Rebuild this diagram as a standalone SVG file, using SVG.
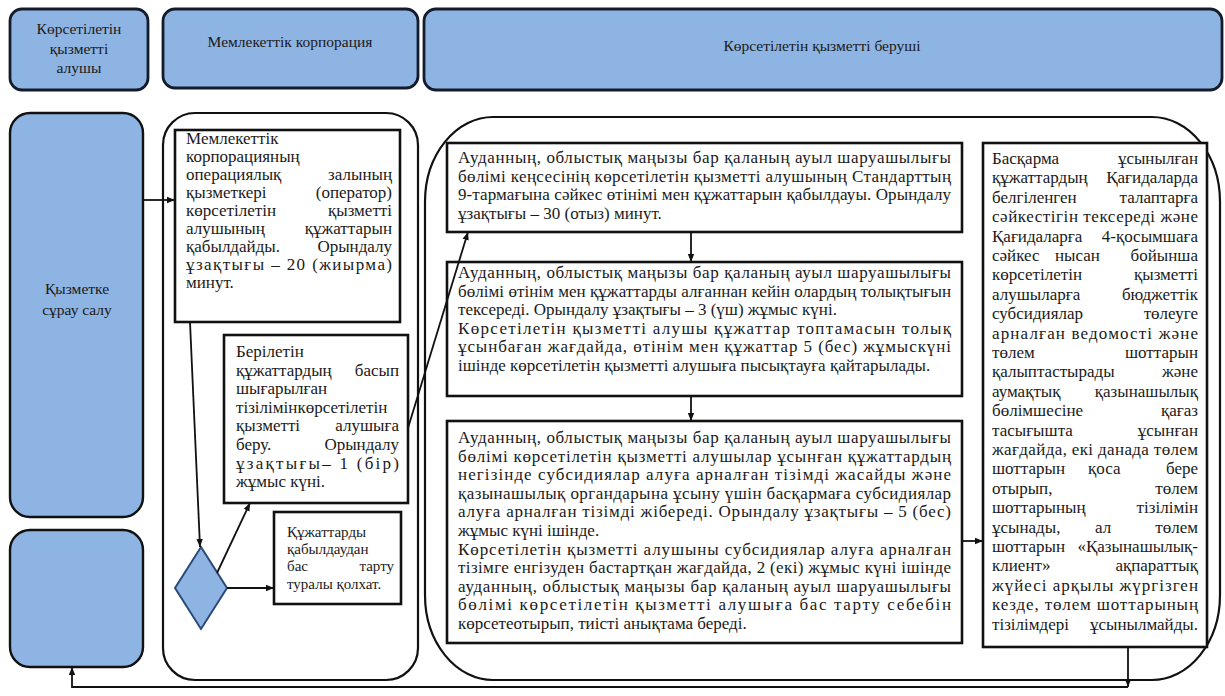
<svg xmlns="http://www.w3.org/2000/svg" width="1225" height="696" viewBox="0 0 1225 696">
<defs>
<marker id="ah" viewBox="0 0 10 10" refX="10" refY="5" markerWidth="8" markerHeight="8" markerUnits="userSpaceOnUse" orient="auto"><path d="M0,1 L10,5 L0,9 z" fill="#111"/></marker>
</defs>
<style>
.hdr{fill:#8EB4E3;stroke:#141c2b;stroke-width:2.8}
.lane{fill:#8EB4E3;stroke:#111;stroke-width:2.4}
.cont{fill:#fff;stroke:#111;stroke-width:2.2}
.box{fill:#fff;stroke:#111;stroke-width:2.6}
.dia{fill:#8EB4E3;stroke:#2c4a78;stroke-width:2}
.h{font-family:Liberation Serif,serif;font-size:15.5px;text-anchor:middle;fill:#1a1a1a}
.b{font-family:Liberation Serif,serif;font-size:17px;fill:#1a1a1a}
.s{font-family:Liberation Serif,serif;font-size:15px;fill:#1a1a1a}
.e{text-anchor:end}
.c{fill:none;stroke:#111;stroke-width:1.8}
.a{marker-end:url(#ah)}
</style>
<rect width="1225" height="696" fill="#fff"/>

<g id="hdr-recipient"><rect class="hdr" x="10" y="9" width="138" height="81" rx="12"/>
<text class="h" x="79" y="34">Көрсетілетін</text><text class="h" x="79" y="53.5">қызметті</text><text class="h" x="79" y="73">алушы</text></g>
<g id="hdr-corp"><rect class="hdr" x="163" y="9" width="255" height="79" rx="12"/>
<text class="h" x="290" y="47">Мемлекеттік корпорация</text></g>
<g id="hdr-provider"><rect class="hdr" x="424" y="9" width="798" height="81" rx="12"/>
<text class="h" x="822" y="51">Көрсетілетін қызметті беруші</text></g>

<g id="lane-request"><rect class="lane" x="10" y="113" width="133" height="404" rx="20"/>
<text class="h" x="77" y="294">Қызметке</text><text class="h" x="77" y="315">сұрау салу</text></g>
<g id="lane-end"><rect class="lane" x="10" y="530" width="133" height="137" rx="20"/></g>

<g id="corp-container"><rect class="cont" x="163" y="113" width="255" height="567" rx="32"/></g>
<g id="provider-container"><rect class="cont" x="425" y="117" width="795" height="563" rx="68" ry="85"/></g>

<g id="box-operator"><rect class="box" x="175" y="130" width="225" height="192"/>
<text class="b" x="186" y="144">Мемлекеттік</text>
<text class="b" x="186" y="162">корпорацияның</text>
<text class="b" x="186" y="180">операциялық</text><text class="b e" x="392" y="180">залының</text>
<text class="b" x="186" y="198">қызметкері</text><text class="b e" x="392" y="198">(оператор)</text>
<text class="b" x="186" y="216">көрсетілетін</text><text class="b e" x="392" y="216">қызметті</text>
<text class="b" x="186" y="234">алушының</text><text class="b e" x="392" y="234">құжаттарын</text>
<text class="b" x="186" y="252">қабылдайды.</text><text class="b e" x="392" y="252">Орындалу</text>
<text class="b" x="186" y="270" textLength="206" lengthAdjust="spacing">ұзақтығы – 20 (жиырма)</text>
<text class="b" x="186" y="288">минут.</text></g>

<g id="box-register"><rect class="box" x="224" y="335" width="184" height="168"/>
<text class="b" x="236" y="357">Берілетін</text>
<text class="b" x="236" y="375.6">құжаттардың</text><text class="b e" x="399" y="375.6">басып</text>
<text class="b" x="236" y="394.2">шығарылған</text>
<text class="b" x="236" y="412.8">тізілімінкөрсетілетін</text>
<text class="b" x="236" y="431.4">қызметті</text><text class="b e" x="399" y="431.4">алушыға</text>
<text class="b" x="236" y="450">беру.</text><text class="b e" x="399" y="450">Орындалу</text>
<text class="b" x="236" y="468.6" textLength="163" lengthAdjust="spacing">ұзақтығы– 1 (бір)</text>
<text class="b" x="236" y="487.2">жұмыс күні.</text></g>

<g id="box-refusal"><rect class="box" x="274" y="512" width="127" height="92"/>
<text class="s" x="287" y="537">Құжаттарды</text>
<text class="s" x="287" y="554">қабылдаудан</text>
<text class="s" x="287" y="571">бас</text><text class="s e" x="394" y="571">тарту</text>
<text class="s" x="287" y="589">туралы қолхат.</text></g>

<g id="decision"><polygon class="dia" points="201,547 227,588 201,629 175,588"/></g>

<g id="box-accept"><rect class="box" x="447" y="143" width="515" height="89"/>
<text class="b" x="458" y="163" textLength="493" lengthAdjust="spacing">Ауданның, облыстық маңызы бар қаланың ауыл шаруашылығы</text>
<text class="b" x="458" y="181.5" textLength="493" lengthAdjust="spacing">бөлімі кеңсесінің көрсетілетін қызметті алушының Стандарттың</text>
<text class="b" x="458" y="200" textLength="493" lengthAdjust="spacing">9-тармағына сәйкес өтінімі мен құжаттарын қабылдауы. Орындалу</text>
<text class="b" x="458" y="218.5">ұзақтығы – 30 (отыз) минут.</text></g>

<g id="box-check"><rect class="box" x="447" y="262" width="515" height="134"/>
<text class="b" x="458" y="278" textLength="493" lengthAdjust="spacing">Ауданның, облыстық маңызы бар қаланың ауыл шаруашылығы</text>
<text class="b" x="458" y="296.5" textLength="493" lengthAdjust="spacing">бөлімі өтінім мен құжаттарды алғаннан кейін олардың толықтығын</text>
<text class="b" x="458" y="315">тексереді. Орындалу ұзақтығы – 3 (үш) жұмыс күні.</text>
<text class="b" x="458" y="333.5" textLength="493" lengthAdjust="spacing">Көрсетілетін қызметті алушы құжаттар топтамасын толық</text>
<text class="b" x="458" y="352" textLength="493" lengthAdjust="spacing">ұсынбаған жағдайда, өтінім мен құжаттар 5 (бес) жұмыскүні</text>
<text class="b" x="458" y="370.5">ішінде көрсетілетін қызметті алушыға пысықтауға қайтарылады.</text></g>

<g id="box-list"><rect class="box" x="447" y="421" width="515" height="222"/>
<text class="b" x="458" y="443" textLength="493" lengthAdjust="spacing">Ауданның, облыстық маңызы бар қаланың ауыл шаруашылығы</text>
<text class="b" x="458" y="461.6" textLength="493" lengthAdjust="spacing">бөлімі көрсетілетін қызметті алушылар ұсынған құжаттардың</text>
<text class="b" x="458" y="480.2" textLength="493" lengthAdjust="spacing">негізінде субсидиялар алуға арналған тізімді жасайды және</text>
<text class="b" x="458" y="498.8" textLength="493" lengthAdjust="spacing">қазынашылық органдарына ұсыну үшін басқармаға субсидиялар</text>
<text class="b" x="458" y="517.4" textLength="493" lengthAdjust="spacing">алуға арналған тізімді жібереді. Орындалу ұзақтығы – 5 (бес)</text>
<text class="b" x="458" y="536">жұмыс күні ішінде.</text>
<text class="b" x="458" y="554.6" textLength="493" lengthAdjust="spacing">Көрсетілетін қызметті алушыны субсидиялар алуға арналған</text>
<text class="b" x="458" y="573.2" textLength="493" lengthAdjust="spacing">тізімге енгізуден бастартқан жағдайда, 2 (екі) жұмыс күні ішінде</text>
<text class="b" x="458" y="591.8" textLength="493" lengthAdjust="spacing">ауданның, облыстық маңызы бар қаланың ауыл шаруашылығы</text>
<text class="b" x="458" y="610.4" textLength="493" lengthAdjust="spacing">бөлімі көрсетілетін қызметті алушыға бас тарту себебін</text>
<text class="b" x="458" y="629">көрсетеотырып, тиісті анықтама береді.</text></g>

<g id="box-board"><rect class="box" x="983" y="143" width="224" height="504"/>
<text class="b" x="992" y="164">Басқарма</text><text class="b e" x="1198" y="164">ұсынылған</text>
<text class="b" x="992" y="183.4">құжаттардың</text><text class="b e" x="1198" y="183.4">Қағидаларда</text>
<text class="b" x="992" y="202.8">белгіленген</text><text class="b e" x="1198" y="202.8">талаптарға</text>
<text class="b" x="992" y="222.2" textLength="206" lengthAdjust="spacing">сәйкестігін тексереді және</text>
<text class="b" x="992" y="241.6">Қағидаларға</text><text class="b e" x="1198" y="241.6">4-қосымшаға</text>
<text class="b" x="992" y="261">сәйкес</text><text class="b" x="1055" y="261">нысан</text><text class="b e" x="1198" y="261">бойынша</text>
<text class="b" x="992" y="280.4">көрсетілетін</text><text class="b e" x="1198" y="280.4">қызметті</text>
<text class="b" x="992" y="299.8">алушыларға</text><text class="b e" x="1198" y="299.8">бюджеттік</text>
<text class="b" x="992" y="319.2">субсидиялар</text><text class="b e" x="1198" y="319.2">төлеуге</text>
<text class="b" x="992" y="338.6" textLength="206" lengthAdjust="spacing">арналған ведомості және</text>
<text class="b" x="992" y="358">төлем</text><text class="b e" x="1198" y="358">шоттарын</text>
<text class="b" x="992" y="377.4">қалыптастырады</text><text class="b e" x="1198" y="377.4">және</text>
<text class="b" x="992" y="396.8">аумақтық</text><text class="b e" x="1198" y="396.8">қазынашылық</text>
<text class="b" x="992" y="416.2">бөлімшесіне</text><text class="b e" x="1198" y="416.2">қағаз</text>
<text class="b" x="992" y="435.6">тасығышта</text><text class="b e" x="1198" y="435.6">ұсынған</text>
<text class="b" x="992" y="455" textLength="206" lengthAdjust="spacing">жағдайда, екі данада төлем</text>
<text class="b" x="992" y="474.4">шоттарын</text><text class="b" x="1088" y="474.4">қоса</text><text class="b e" x="1198" y="474.4">бере</text>
<text class="b" x="992" y="493.8">отырып,</text><text class="b e" x="1198" y="493.8">төлем</text>
<text class="b" x="992" y="513.2">шоттарының</text><text class="b e" x="1198" y="513.2">тізілімін</text>
<text class="b" x="992" y="532.6">ұсынады,</text><text class="b" x="1095" y="532.6">ал</text><text class="b e" x="1198" y="532.6">төлем</text>
<text class="b" x="992" y="552">шоттарын</text><text class="b e" x="1198" y="552">«Қазынашылық-</text>
<text class="b" x="992" y="571.4">клиент»</text><text class="b e" x="1198" y="571.4">ақпараттық</text>
<text class="b" x="992" y="590.8" textLength="206" lengthAdjust="spacing">жүйесі арқылы жүргізген</text>
<text class="b" x="992" y="610.2" textLength="206" lengthAdjust="spacing">кезде, төлем шоттарының</text>
<text class="b" x="992" y="629.6">тізілімдері</text><text class="b e" x="1198" y="629.6">ұсынылмайды.</text></g>

<g id="connectors">
<line class="c a" x1="143" y1="200" x2="175" y2="200"/>
<line class="c a" x1="190" y1="322" x2="200" y2="547"/>
<line class="c a" x1="217" y1="573" x2="250" y2="503"/>
<line class="c a" x1="227" y1="588" x2="274" y2="588"/>
<line class="c a" x1="408" y1="428" x2="468" y2="232"/>
<line class="c a" x1="691" y1="232" x2="691" y2="262"/>
<line class="c a" x1="691" y1="396" x2="691" y2="421"/>
<line class="c a" x1="962" y1="541" x2="983" y2="541"/>
<line class="c a" x1="1128" y1="647" x2="1128" y2="687"/>
<path class="c a" d="M1128,687 H72 V667"/>
</g>
</svg>
